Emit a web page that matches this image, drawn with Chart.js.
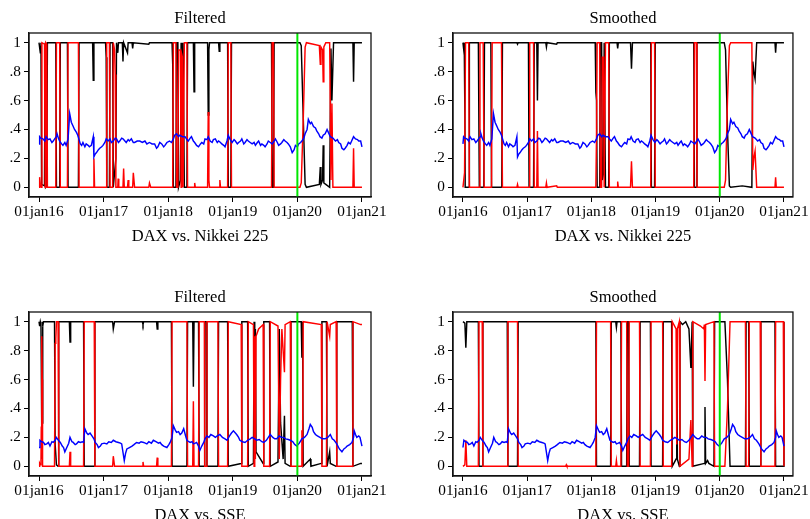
<!DOCTYPE html>
<html>
<head>
<meta charset="utf-8">
<script src="https://cdn.jsdelivr.net/npm/chart.js@4.4.0/dist/chart.umd.min.js"></script>
<style>
  body { margin: 0; width: 810px; height: 519px; overflow: hidden; background: #fff; position: relative; }
  canvas { position: absolute; }
</style>
</head>
<body>
<script>
// x axis: decimal years, ticks on 1 January
const tickYears = [2016, 2017, 2018, 2019, 2020, 2021];
const tickLabels = ['01jan16', '01jan17', '01jan18', '01jan19', '01jan20', '01jan21'];
const yTickVals = [0, 0.2, 0.4, 0.6, 0.8, 1];
const yTickLabels = ['0', '.2', '.4', '.6', '.8', '1'];
const markerYear = 2020;
const panelTitles = ['Filtered', 'Smoothed'];
const pairTitles = ['DAX vs. Nikkei 225', 'DAX vs. SSE'];

// [year, probability]
const nikkeiFiltBlack = [[2016.00,1],[2016.02,0.93],[2016.03,1],[2016.04,0.02],[2016.085,0.01],[2016.095,1],[2016.10,0.98],[2016.105,0],[2016.12,0.01],[2016.13,1],
  [2016.26,1],[2016.27,0],[2016.32,0],[2016.33,1],[2016.44,1],[2016.45,0],[2016.61,0],[2016.62,1],
  [2016.83,1],[2016.84,0.74],[2016.85,1],[2017.03,1],[2017.04,0.9],[2017.05,0],[2017.09,0],[2017.10,1],
  [2017.14,1],[2017.15,0],[2017.19,0.2],[2017.20,1],[2017.22,0.93],[2017.23,1],[2017.29,1],[2017.30,0.87],[2017.31,1],
  [2017.37,0.93],[2017.38,1],[2017.44,1],[2017.45,0.96],[2017.46,1],[2017.70,0.99],[2017.71,1],
  [2018.06,1],[2018.07,0.85],[2018.08,0],[2018.12,0],[2018.13,1],[2018.15,1],[2018.16,0],[2018.19,0.05],[2018.20,1],[2018.21,0.1],[2018.22,0.1],[2018.23,1],[2018.24,1],[2018.25,0],[2018.29,0],[2018.30,1],
  [2018.39,1],[2018.40,0.66],[2018.41,1],[2018.61,1],[2018.62,0.5],[2018.63,0.95],[2018.64,1],
  [2018.78,1],[2018.79,0.94],[2018.80,1],[2018.92,1],[2018.93,0],[2018.97,0],[2018.98,1],
  [2019.60,1],[2019.61,0],[2019.63,0],[2019.64,1],
  [2020.04,1],[2020.06,0.98],[2020.09,0.5],[2020.12,0.02],[2020.14,0],[2020.34,0.02],[2020.355,0.14],[2020.365,0.02],[2020.39,0.05],[2020.40,0.29],[2020.41,0.03],[2020.44,0.02],[2020.50,0],[2020.52,0.96],[2020.535,0.6],[2020.56,1],
  [2020.86,1],[2020.87,0.73],[2020.88,1],[2021.00,1]];
const nikkeiFiltRed = [[2016.00,0],[2016.01,0.07],[2016.02,0.02],[2016.035,0],[2016.045,1],[2016.085,0.99],[2016.095,0],[2016.105,1],[2016.12,0.99],[2016.13,0],
  [2016.26,0],[2016.27,1],[2016.32,1],[2016.33,0],[2016.44,0],[2016.45,1],[2016.61,1],[2016.62,0],
  [2016.84,0],[2016.85,0.2],[2016.86,0],[2017.04,0],[2017.045,0.1],[2017.05,1],[2017.09,1],[2017.10,0],
  [2017.14,0],[2017.15,1],[2017.17,0.95],[2017.18,0.78],[2017.19,0],
  [2017.22,0],[2017.225,0.06],[2017.235,0],[2017.30,0],[2017.31,0.13],[2017.32,0],[2017.37,0],[2017.38,0.05],[2017.39,0],[2017.45,0],[2017.46,0.1],[2017.48,0],[2017.70,0],[2017.71,0.03],[2017.73,0],
  [2018.06,0],[2018.07,0.1],[2018.08,1],[2018.12,1],[2018.13,0],[2018.15,0],[2018.16,0.95],[2018.19,0.95],[2018.20,0],[2018.21,0.92],[2018.22,0.9],[2018.23,0],[2018.24,0],[2018.25,1],[2018.29,1],[2018.30,0],
  [2018.40,0],[2018.41,0.03],[2018.42,0],[2018.61,0],[2018.62,0.52],[2018.63,0.05],[2018.64,0],
  [2018.79,0],[2018.80,0.05],[2018.81,0],[2018.92,0],[2018.93,1],[2018.97,1],[2018.98,0],
  [2019.60,0],[2019.61,1],[2019.63,1],[2019.64,0],
  [2020.04,0],[2020.06,0.03],[2020.09,0.45],[2020.12,0.97],[2020.14,1],[2020.34,0.98],[2020.355,0.85],[2020.365,0.97],[2020.39,0.95],[2020.40,0.73],[2020.41,0.97],[2020.44,1],[2020.50,1],[2020.52,0.05],[2020.535,0.58],[2020.55,0],
  [2020.86,0],[2020.87,0.27],[2020.88,0],[2021.00,0]];
const nikkeiSmoothBlack = [[2016.00,1],[2016.01,0.96],[2016.02,1],[2016.03,0.5],[2016.035,0],[2016.095,0],[2016.10,1],
  [2016.24,1],[2016.255,0],[2016.325,0],[2016.335,1],[2016.435,1],[2016.445,0],[2016.605,0],[2016.615,1],
  [2016.84,1],[2016.85,0.99],[2016.86,1],[2017.02,1],[2017.03,0],[2017.10,0],[2017.11,1],
  [2017.15,1],[2017.16,0.6],[2017.17,1],[2017.29,1],[2017.30,0.97],[2017.31,1],[2017.46,0.99],[2017.47,1],
  [2018.06,1],[2018.07,0.66],[2018.08,0.6],[2018.09,0],[2018.13,0],[2018.14,1],[2018.16,1],[2018.17,0.05],[2018.19,0.1],[2018.20,1],[2018.21,1],[2018.22,0],[2018.27,0],[2018.28,1],
  [2018.40,1],[2018.41,0.96],[2018.42,1],[2018.61,1],[2018.625,0.82],[2018.64,1],
  [2018.925,1],[2018.935,0],[2018.985,0],[2018.995,1],[2019.595,1],[2019.605,0],[2019.635,0],[2019.645,1],
  [2020.07,1],[2020.09,0.95],[2020.12,0.4],[2020.15,0.01],[2020.17,0],[2020.35,0.01],[2020.50,0],[2020.515,0.87],[2020.53,0.8],[2020.55,0.75],[2020.575,1],
  [2020.86,1],[2020.87,0.93],[2020.88,1],[2021.00,1]];
const nikkeiSmoothRed = [[2016.00,0],[2016.01,0.04],[2016.025,0.1],[2016.04,1],[2016.09,1],[2016.10,0],
  [2016.25,0],[2016.265,1],[2016.315,1],[2016.33,0],[2016.445,0],[2016.455,1],[2016.60,1],[2016.615,0],
  [2016.84,0],[2016.85,0.02],[2016.86,0],[2017.03,0],[2017.04,1],[2017.10,1],[2017.11,0],
  [2017.15,0],[2017.16,0.39],[2017.17,0],[2017.29,0],[2017.30,0.03],[2017.31,0],[2017.46,0.01],[2017.47,0],
  [2018.07,0],[2018.08,0.35],[2018.09,1],[2018.13,1],[2018.14,0],[2018.16,0],[2018.17,0.9],[2018.19,0.9],[2018.20,0],[2018.21,0],[2018.22,1],[2018.27,1],[2018.28,0],
  [2018.40,0],[2018.41,0.04],[2018.42,0],[2018.61,0],[2018.625,0.18],[2018.64,0],
  [2018.925,0],[2018.935,1],[2018.985,1],[2018.995,0],[2019.595,0],[2019.605,1],[2019.635,1],[2019.645,0],
  [2020.07,0],[2020.09,0.05],[2020.12,0.6],[2020.15,0.98],[2020.17,1],[2020.50,1],[2020.515,0.12],[2020.53,0.2],[2020.55,0.25],[2020.575,0],
  [2020.86,0],[2020.87,0.07],[2020.88,0],[2021.00,0]];
const nikkeiBlue = [[2016.00,0.30],[2016.01,0.35],[2016.03,0.34],[2016.06,0.335],[2016.09,0.32],[2016.11,0.35],[2016.14,0.33],[2016.17,0.335],[2016.20,0.31],[2016.22,0.32],
  [2016.25,0.34],[2016.27,0.35],[2016.28,0.37],[2016.30,0.34],[2016.32,0.32],[2016.35,0.30],[2016.37,0.29],[2016.40,0.31],[2016.42,0.29],[2016.45,0.335],
  [2016.475,0.51],[2016.50,0.45],[2016.53,0.42],[2016.55,0.40],[2016.58,0.38],[2016.60,0.36],[2016.62,0.33],[2016.64,0.30],[2016.66,0.29],[2016.68,0.31],
  [2016.71,0.28],[2016.73,0.30],[2016.76,0.29],[2016.78,0.28],[2016.81,0.29],[2016.84,0.35],[2016.85,0.21],[2016.87,0.23],[2016.89,0.24],[2016.92,0.26],
  [2016.94,0.27],[2016.97,0.28],[2016.99,0.29],[2017.02,0.31],[2017.04,0.335],[2017.07,0.32],[2017.10,0.335],[2017.12,0.31],[2017.15,0.32],[2017.18,0.34],
  [2017.20,0.335],[2017.23,0.31],[2017.25,0.32],[2017.28,0.34],[2017.30,0.335],[2017.33,0.32],[2017.35,0.31],[2017.38,0.33],[2017.40,0.32],[2017.43,0.335],
  [2017.46,0.31],[2017.48,0.31],[2017.52,0.32],[2017.56,0.32],[2017.60,0.31],[2017.64,0.32],[2017.67,0.30],[2017.71,0.31],[2017.75,0.30],[2017.79,0.30],
  [2017.82,0.27],[2017.84,0.28],[2017.87,0.31],[2017.90,0.30],[2017.93,0.28],[2017.95,0.29],[2017.98,0.31],[2018.02,0.32],[2018.05,0.31],[2018.08,0.335],
  [2018.10,0.36],[2018.13,0.37],[2018.16,0.35],[2018.18,0.36],[2018.22,0.35],[2018.26,0.35],[2018.29,0.33],[2018.31,0.32],[2018.34,0.34],[2018.36,0.35],
  [2018.39,0.32],[2018.41,0.31],[2018.44,0.29],[2018.47,0.28],[2018.50,0.30],[2018.52,0.31],[2018.55,0.30],[2018.57,0.335],[2018.60,0.33],[2018.62,0.35],
  [2018.65,0.32],[2018.68,0.31],[2018.70,0.33],[2018.73,0.335],[2018.76,0.31],[2018.78,0.32],[2018.81,0.31],[2018.83,0.30],[2018.86,0.29],[2018.88,0.28],
  [2018.91,0.32],[2018.93,0.36],[2018.96,0.33],[2018.99,0.31],[2019.02,0.33],[2019.04,0.32],[2019.07,0.30],[2019.09,0.31],[2019.12,0.32],[2019.14,0.335],
  [2019.17,0.30],[2019.19,0.31],[2019.22,0.33],[2019.24,0.32],[2019.27,0.31],[2019.30,0.30],[2019.33,0.31],[2019.35,0.29],[2019.38,0.31],[2019.40,0.32],
  [2019.43,0.29],[2019.45,0.30],[2019.48,0.29],[2019.50,0.28],[2019.53,0.30],[2019.55,0.32],[2019.58,0.31],[2019.61,0.30],[2019.64,0.32],[2019.66,0.335],
  [2019.69,0.31],[2019.71,0.29],[2019.74,0.30],[2019.76,0.31],[2019.79,0.33],[2019.81,0.32],[2019.84,0.31],[2019.86,0.30],[2019.89,0.28],[2019.92,0.24],
  [2019.95,0.26],[2019.97,0.29],[2020.00,0.28],[2020.02,0.30],[2020.05,0.31],[2020.07,0.32],[2020.10,0.34],[2020.12,0.37],[2020.15,0.40],[2020.17,0.47],
  [2020.20,0.44],[2020.22,0.45],[2020.25,0.42],[2020.28,0.41],[2020.30,0.39],[2020.33,0.37],[2020.35,0.35],[2020.38,0.34],[2020.40,0.36],[2020.43,0.37],
  [2020.46,0.40],[2020.48,0.38],[2020.51,0.35],[2020.55,0.34],[2020.59,0.32],[2020.62,0.33],[2020.64,0.31],[2020.67,0.30],[2020.69,0.27],[2020.72,0.26],
  [2020.74,0.27],[2020.77,0.29],[2020.79,0.31],[2020.82,0.30],[2020.84,0.32],[2020.87,0.35],[2020.90,0.335],[2020.93,0.33],[2020.95,0.32],[2020.98,0.32],[2021.00,0.28]];

const sseFiltBlack = [[2016.00,1],[2016.01,0.97],[2016.02,1],[2016.03,0.98],[2016.035,0.73],[2016.045,0.05],[2016.05,0.3],[2016.055,1],[2016.06,0.97],[2016.07,1],
  [2016.24,1],[2016.25,0.15],[2016.27,0.01],[2016.295,0],[2016.305,1],[2016.47,1],[2016.48,0.86],[2016.49,1],
  [2016.69,1],[2016.70,0],[2016.855,0],[2016.865,1],
  [2017.14,1],[2017.15,0.95],[2017.17,1],[2017.60,1],[2017.61,0.98],[2017.62,1],[2017.82,1],[2017.83,0.95],[2017.84,1],
  [2018.05,1],[2018.06,0],[2018.29,0],[2018.30,1],[2018.38,1],[2018.39,0.55],[2018.40,1],[2018.47,1],[2018.48,0],[2018.56,0],[2018.565,1],[2018.59,1],[2018.60,0],[2018.77,0],[2018.78,1],
  [2018.92,1],[2018.93,0],[2019.13,0.02],[2019.14,1],[2019.23,1],[2019.24,0],[2019.32,0.02],[2019.33,1],[2019.34,0.1],[2019.35,0.95],[2019.36,0.1],[2019.47,0.02],[2019.48,1],
  [2019.57,1],[2019.58,0],[2019.70,0.03],[2019.72,0.95],[2019.74,0.3],[2019.78,0.05],[2019.80,0.35],[2019.81,0.02],[2019.89,0],[2019.90,1],
  [2020.06,1],[2020.07,0.75],[2020.08,1],[2020.09,0],[2020.20,0.05],[2020.21,0],[2020.37,0.02],[2020.38,1],[2020.45,1],[2020.46,0],[2020.50,0.1],[2020.51,0.02],[2020.60,0],[2020.61,1],
  [2020.85,1],[2020.86,0],[2020.98,0.02],[2021.00,0.02]];
const sseFiltRed = [[2016.00,0],[2016.01,0.02],[2016.02,0.01],[2016.03,0.02],[2016.035,0.27],[2016.04,0.73],[2016.045,0.9],[2016.05,0.6],[2016.055,0],
  [2016.24,0],[2016.25,0.85],[2016.26,0.88],[2016.27,1],[2016.295,1],[2016.305,0],[2016.47,0],[2016.48,0.1],[2016.49,0],
  [2016.69,0],[2016.70,1],[2016.855,1],[2016.865,0],
  [2017.14,0],[2017.15,0.07],[2017.17,0],[2017.60,0],[2017.61,0.03],[2017.62,0],[2017.82,0],[2017.83,0.06],[2017.84,0],
  [2018.05,0],[2018.06,1],[2018.29,1],[2018.30,0],[2018.38,0],[2018.39,0.45],[2018.40,0],[2018.47,0],[2018.48,1],[2018.56,1],[2018.565,0],[2018.59,0],[2018.60,1],[2018.77,1],[2018.78,0],
  [2018.92,0],[2018.93,1],[2019.13,0.98],[2019.14,0],[2019.23,0],[2019.24,1],[2019.32,0.98],[2019.33,0],[2019.34,0.9],[2019.35,0.05],[2019.36,0.9],[2019.40,0.95],[2019.47,0.98],[2019.48,0],
  [2019.57,0],[2019.58,1],[2019.70,0.97],[2019.72,0.05],[2019.74,0.6],[2019.76,0.95],[2019.80,0.65],[2019.81,0.98],[2019.89,1],[2019.90,0],
  [2020.06,0],[2020.07,0.25],[2020.08,0],[2020.09,1],[2020.37,0.98],[2020.38,0],[2020.45,0],[2020.46,1],[2020.50,0.9],[2020.51,0.98],[2020.60,1],[2020.61,0],
  [2020.85,0],[2020.86,1],[2020.98,0.98],[2021.00,0.98]];
const sseSmoothBlack = [[2016.00,1],[2016.03,0.99],[2016.045,0.82],[2016.06,1],
  [2016.24,1],[2016.25,0],[2016.30,0],[2016.31,1],[2016.69,1],[2016.70,0],[2016.85,0],[2016.86,1],
  [2018.07,1],[2018.08,0],[2018.30,0],[2018.31,1],[2018.38,1],[2018.39,0.96],[2018.40,1],[2018.46,1],[2018.47,0],[2018.55,0],[2018.56,1],[2018.58,1],[2018.59,0],[2018.75,0],[2018.76,1],
  [2018.92,1],[2018.93,0],[2019.11,0],[2019.12,1],[2019.25,1],[2019.26,0],[2019.32,0.05],[2019.33,0.85],[2019.34,0.05],[2019.37,0],[2019.38,1],[2019.42,0.98],[2019.47,1],[2019.52,0.95],[2019.55,0.68],[2019.57,1],[2019.58,0],
  [2019.76,0.02],[2019.77,0.41],[2019.78,0.02],[2019.81,0.04],[2019.83,0.02],[2019.91,0],[2019.92,1],
  [2020.08,1],[2020.12,0.6],[2020.16,0],[2020.40,0],[2020.41,1],[2020.45,1],[2020.46,0],[2020.63,0],[2020.64,1],[2020.86,1],[2020.87,0],[2020.99,0],[2021.00,1]];
const sseSmoothRed = [[2016.00,0],[2016.03,0.01],[2016.045,0.18],[2016.06,0],
  [2016.24,0],[2016.25,1],[2016.30,1],[2016.31,0],[2016.69,0],[2016.70,1],[2016.85,1],[2016.86,0],
  [2017.60,0],[2017.61,0.01],[2017.62,0],
  [2018.07,0],[2018.08,1],[2018.30,1],[2018.31,0],[2018.38,0],[2018.39,0.04],[2018.40,0],[2018.46,0],[2018.47,1],[2018.55,1],[2018.56,0],[2018.58,0],[2018.59,1],[2018.75,1],[2018.76,0],
  [2018.92,0],[2018.93,1],[2019.11,1],[2019.12,0],[2019.25,0],[2019.26,1],[2019.32,0.95],[2019.33,0.15],[2019.34,0.95],[2019.37,1],[2019.38,0],[2019.52,0.05],[2019.55,0.32],[2019.57,0],[2019.58,1],
  [2019.70,0.97],[2019.75,0.95],[2019.76,0.98],[2019.77,0.59],[2019.78,0.98],[2019.91,1],[2019.92,0],
  [2020.08,0],[2020.12,0.4],[2020.16,1],[2020.40,1],[2020.41,0],[2020.45,0],[2020.46,1],[2020.63,1],[2020.64,0],[2020.86,0],[2020.87,1],[2020.99,1],[2021.00,0]];
const sseBlue = [[2016.00,0.13],[2016.015,0.18],[2016.04,0.17],[2016.07,0.165],[2016.09,0.15],[2016.12,0.155],[2016.145,0.165],[2016.17,0.14],[2016.20,0.17],[2016.22,0.165],
  [2016.25,0.18],[2016.27,0.20],[2016.30,0.18],[2016.33,0.165],[2016.36,0.14],[2016.38,0.13],[2016.40,0.10],[2016.43,0.13],[2016.46,0.16],[2016.48,0.20],
  [2016.51,0.17],[2016.53,0.165],[2016.56,0.15],[2016.58,0.155],[2016.61,0.17],[2016.64,0.165],[2016.67,0.17],[2016.69,0.165],[2016.71,0.26],[2016.74,0.23],
  [2016.76,0.22],[2016.79,0.23],[2016.82,0.21],[2016.85,0.19],[2016.87,0.165],[2016.90,0.15],[2016.92,0.13],[2016.95,0.14],[2016.97,0.155],[2017.01,0.16],
  [2017.05,0.155],[2017.08,0.17],[2017.12,0.165],[2017.15,0.18],[2017.19,0.17],[2017.23,0.165],[2017.26,0.16],[2017.28,0.155],[2017.32,0.04],[2017.34,0.09],
  [2017.36,0.12],[2017.40,0.13],[2017.44,0.14],[2017.47,0.15],[2017.51,0.165],[2017.55,0.16],[2017.58,0.17],[2017.62,0.165],[2017.67,0.155],[2017.70,0.17],
  [2017.74,0.16],[2017.77,0.18],[2017.81,0.17],[2017.85,0.16],[2017.875,0.165],[2017.90,0.15],[2017.93,0.14],[2017.98,0.13],[2018.01,0.15],[2018.03,0.165],
  [2018.06,0.20],[2018.08,0.28],[2018.11,0.25],[2018.13,0.235],[2018.16,0.24],[2018.185,0.22],[2018.21,0.23],[2018.24,0.26],[2018.27,0.21],[2018.29,0.18],
  [2018.32,0.17],[2018.34,0.165],[2018.37,0.17],[2018.39,0.155],[2018.42,0.16],[2018.44,0.165],[2018.47,0.14],[2018.49,0.11],[2018.52,0.14],[2018.55,0.165],
  [2018.57,0.19],[2018.60,0.21],[2018.63,0.20],[2018.66,0.22],[2018.70,0.21],[2018.73,0.20],[2018.76,0.21],[2018.80,0.22],[2018.84,0.20],[2018.88,0.19],
  [2018.91,0.18],[2018.95,0.21],[2018.98,0.23],[2019.01,0.245],[2019.04,0.23],[2019.06,0.22],[2019.09,0.20],[2019.11,0.18],[2019.15,0.17],[2019.19,0.165],
  [2019.23,0.18],[2019.27,0.19],[2019.30,0.20],[2019.34,0.19],[2019.37,0.18],[2019.41,0.185],[2019.45,0.17],[2019.48,0.165],[2019.52,0.18],[2019.55,0.20],
  [2019.58,0.22],[2019.62,0.20],[2019.65,0.19],[2019.68,0.19],[2019.72,0.21],[2019.75,0.20],[2019.79,0.20],[2019.82,0.19],[2019.86,0.185],[2019.89,0.18],
  [2019.93,0.17],[2019.96,0.15],[2019.99,0.14],[2020.03,0.16],[2020.07,0.19],[2020.11,0.20],[2020.15,0.22],[2020.18,0.26],[2020.20,0.29],[2020.23,0.27],
  [2020.25,0.24],[2020.28,0.22],[2020.31,0.21],[2020.35,0.20],[2020.39,0.19],[2020.43,0.19],[2020.47,0.20],[2020.51,0.22],[2020.54,0.19],[2020.57,0.18],
  [2020.61,0.155],[2020.65,0.12],[2020.69,0.10],[2020.72,0.12],[2020.75,0.13],[2020.77,0.14],[2020.81,0.15],[2020.845,0.165],[2020.87,0.20],[2020.88,0.245],
  [2020.90,0.22],[2020.92,0.20],[2020.95,0.21],[2020.97,0.20],[2021.00,0.14]];

const panels = [
  { left: 0,   top: 0,   axisW: 29, padR: 34, title: panelTitles[0], pair: pairTitles[0], black: nikkeiFiltBlack,   red: nikkeiFiltRed,   blue: nikkeiBlue },
  { left: 405, top: 0,   axisW: 48, padR: 15, title: panelTitles[1], pair: pairTitles[0], black: nikkeiSmoothBlack, red: nikkeiSmoothRed, blue: nikkeiBlue },
  { left: 0,   top: 279, axisW: 29, padR: 34, title: panelTitles[0], pair: pairTitles[1], black: sseFiltBlack,      red: sseFiltRed,      blue: sseBlue },
  { left: 405, top: 279, axisW: 48, padR: 15, title: panelTitles[1], pair: pairTitles[1], black: sseSmoothBlack,    red: sseSmoothRed,    blue: sseBlue }
];

const FONT = '"Liberation Serif", "Times New Roman", serif';
const Y_MIN = -0.067, Y_MAX = 1.067;

// frame around the plot region plus the panel title and the pair name
const framePlugin = {
  id: 'frame',
  afterDraw(chart, args, opts) {
    const { ctx, chartArea: a } = chart;
    ctx.save();
    ctx.strokeStyle = '#111';
    ctx.lineWidth = 1.3;
    ctx.strokeRect(a.left, a.top, a.right - a.left, a.bottom - a.top);
    ctx.fillStyle = '#000';
    ctx.font = '16.5px ' + FONT;
    ctx.textAlign = 'center';
    ctx.textBaseline = 'alphabetic';
    const cx = (a.left + a.right) / 2;
    ctx.fillText(opts.title, cx, 23);
    ctx.fillText(opts.pair, cx, 241);
    ctx.restore();
  }
};

const toXY = pts => pts.map(p => ({ x: p[0], y: p[1] }));
const line = (pts, color, order, width) => ({
  data: toXY(pts), borderColor: color, borderWidth: width || 1.45,
  pointRadius: 0, tension: 0, fill: false, order: order
});

panels.forEach(p => {
  const cv = document.createElement('canvas');
  cv.width = 405; cv.height = 260;
  cv.style.left = p.left + 'px';
  cv.style.top = p.top + 'px';
  document.body.appendChild(cv);

  new Chart(cv.getContext('2d'), {
    type: 'line',
    data: {
      datasets: [
        line([[markerYear, Y_MIN], [markerYear, Y_MAX]], '#00e600', 0, 2),
        line(p.blue, '#0000ff', 1),
        line(p.red, '#ff0000', 2),
        line(p.black, '#000000', 3)
      ]
    },
    options: {
      responsive: false,
      animation: false,
      layout: { padding: { top: 33, right: p.padR, left: 0, bottom: 0 } },
      plugins: {
        legend: { display: false },
        tooltip: { enabled: false },
        frame: { title: p.title, pair: p.pair }
      },
      scales: {
        x: {
          type: 'linear', min: 2015.845, max: 2021.14,
          afterBuildTicks: s => { s.ticks = tickYears.map(v => ({ value: v })); },
          afterFit: s => { s.height = 63; },
          ticks: {
            callback: (v, i) => tickLabels[i],
            font: { family: FONT, size: 15.3 }, color: '#000',
            maxRotation: 0, autoSkip: false, padding: 1
          },
          grid: { drawOnChartArea: false, tickLength: 5, color: '#000' },
          border: { color: '#111', width: 1.3 }
        },
        y: {
          min: Y_MIN, max: Y_MAX,
          afterBuildTicks: s => { s.ticks = yTickVals.map(v => ({ value: v })); },
          afterFit: s => { s.width = p.axisW; },
          ticks: {
            callback: (v, i) => yTickLabels[i],
            font: { family: FONT, size: 15.3 }, color: '#000', padding: 3
          },
          grid: { drawOnChartArea: false, tickLength: 5, color: '#000' },
          border: { color: '#111', width: 1.3 }
        }
      }
    },
    plugins: [framePlugin]
  });
});
</script>
</body>
</html>
